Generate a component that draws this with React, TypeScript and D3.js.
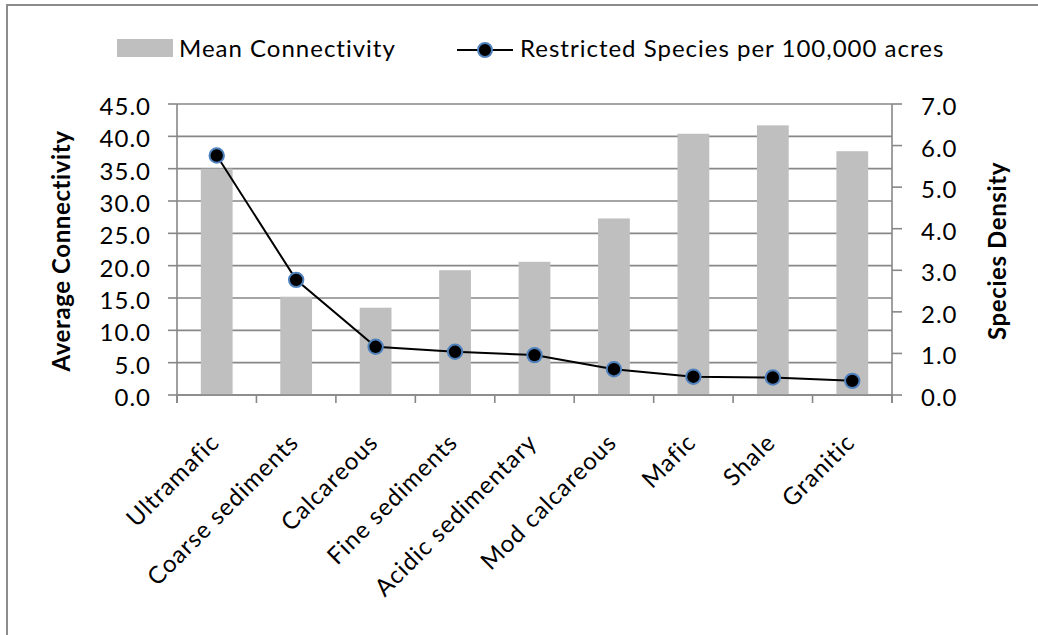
import React from "react";
import * as d3 from "d3";

const categories = [
  "Ultramafic",
  "Coarse sediments",
  "Calcareous",
  "Fine sediments",
  "Acidic sedimentary",
  "Mod calcareous",
  "Mafic",
  "Shale",
  "Granitic",
];
const meanConnectivity = [35.0, 15.2, 13.5, 19.3, 20.6, 27.3, 40.4, 41.7, 37.7];
const speciesDensity = [5.76, 2.77, 1.16, 1.04, 0.96, 0.62, 0.44, 0.42, 0.34];
const leftTicks = [0, 5, 10, 15, 20, 25, 30, 35, 40, 45];
const rightTicks = [0, 1, 2, 3, 4, 5, 6, 7];
const barLabel = "Mean Connectivity";
const lineLabel = "Restricted Species per 100,000 acres";
const leftTitle = "Average Connectivity";
const rightTitle = "Species Density";

const W = 1038;
const H = 635;
const plot = { left: 177, right: 892, top: 104, bottom: 395 };
const FONT = "Lato, 'Open Sans', sans-serif";
const FS = 24;
const GRID = "#878787";

export default function App() {
  const x = d3
    .scaleBand<string>()
    .domain(categories)
    .range([plot.left, plot.right])
    .paddingInner(0.6)
    .paddingOuter(0.3);
  const yL = d3.scaleLinear().domain([0, 45]).range([plot.bottom, plot.top]);
  const yR = d3.scaleLinear().domain([0, 7]).range([plot.bottom, plot.top]);
  const step = x.step();
  const cx = (c: string) => (x(c) as number) + x.bandwidth() / 2;

  const line = d3
    .line<number>()
    .x((_, i) => cx(categories[i]))
    .y((d) => yR(d));

  const boundaries = d3.range(categories.length + 1).map((i) => plot.left + i * step);

  const textStyle: React.CSSProperties = {
    fontFamily: FONT,
    fontSize: FS,
    letterSpacing: "1px",
  };
  const titleStyle: React.CSSProperties = {
    fontFamily: FONT,
    fontSize: FS,
    fontWeight: "bold",
    letterSpacing: "0.6px",
  };

  return (
    <div style={{ position: "absolute", left: 0, top: 0 }}>
      <svg width={W} height={H} style={{ display: "block", background: "#fff" }}>
        <rect x={7} y={5} width={W + 10} height={H + 10} fill="#fff" stroke="#8c8c8c" strokeWidth={2} />

        {/* gridlines */}
        {leftTicks.map((t) => (
          <line key={"g" + t} x1={plot.left} x2={plot.right} y1={yL(t)} y2={yL(t)} stroke={GRID} strokeWidth={1.6} />
        ))}

        {/* bars */}
        {categories.map((c, i) => (
          <rect
            key={"b" + c}
            x={x(c)}
            y={yL(meanConnectivity[i])}
            width={x.bandwidth()}
            height={plot.bottom - yL(meanConnectivity[i])}
            fill="#bfbfbf"
          />
        ))}

        {/* axes lines */}
        <line x1={plot.left} x2={plot.left} y1={plot.top} y2={plot.bottom + 8} stroke={GRID} strokeWidth={1.6} />
        <line x1={plot.right} x2={plot.right} y1={plot.top} y2={plot.bottom + 8} stroke={GRID} strokeWidth={1.6} />
        <line x1={plot.left} x2={plot.right} y1={plot.bottom} y2={plot.bottom} stroke={GRID} strokeWidth={1.6} />

        {/* left ticks + labels */}
        {leftTicks.map((t) => (
          <g key={"l" + t}>
            <line x1={plot.left - 9} x2={plot.left} y1={yL(t)} y2={yL(t)} stroke={GRID} strokeWidth={1.6} />
            <text x={151} y={yL(t) + 11} textAnchor="end" style={textStyle} fill="#000">
              {d3.format(".1f")(t)}
            </text>
          </g>
        ))}

        {/* right ticks + labels */}
        {rightTicks.map((t) => (
          <g key={"r" + t}>
            <line x1={plot.right} x2={plot.right + 10} y1={yR(t)} y2={yR(t)} stroke={GRID} strokeWidth={1.6} />
            <text x={921} y={yR(t) + 11} textAnchor="start" style={textStyle} fill="#000">
              {d3.format(".1f")(t)}
            </text>
          </g>
        ))}

        {/* x ticks */}
        {boundaries.map((b, i) => (
          <line key={"xt" + i} x1={b} x2={b} y1={plot.bottom} y2={plot.bottom + 8} stroke={GRID} strokeWidth={1.6} />
        ))}

        {/* x labels */}
        {categories.map((c) => (
          <text
            key={"xl" + c}
            transform={`translate(${cx(c) + 4},${444}) rotate(-45)`}
            textAnchor="end"
            style={textStyle}
            fill="#000"
          >
            {c}
          </text>
        ))}

        {/* line series */}
        <path d={line(speciesDensity) || ""} fill="none" stroke="#000" strokeWidth={2} />
        {speciesDensity.map((v, i) => (
          <circle key={"m" + i} cx={cx(categories[i])} cy={yR(v)} r={7.2} fill="#000" stroke="#4f81bd" strokeWidth={2} />
        ))}

        {/* axis titles */}
        <text
          transform={`translate(${70},${251}) rotate(-90)`}
          textAnchor="middle"
          style={titleStyle}
          fill="#000"
        >
          {leftTitle}
        </text>
        <text
          transform={`translate(${1006},${251}) rotate(-90)`}
          textAnchor="middle"
          style={titleStyle}
          fill="#000"
        >
          {rightTitle}
        </text>

        {/* legend */}
        <rect x={117} y={39} width={56} height={18} fill="#bfbfbf" />
        <text x={179} y={57} style={textStyle} fill="#000">
          {barLabel}
        </text>
        <line x1={457} x2={513} y1={50} y2={50} stroke="#000" strokeWidth={2} />
        <circle cx={485} cy={50} r={7} fill="#000" stroke="#4f81bd" strokeWidth={2} />
        <text x={520} y={57} style={textStyle} fill="#000">
          {lineLabel}
        </text>
      </svg>
    </div>
  );
}
